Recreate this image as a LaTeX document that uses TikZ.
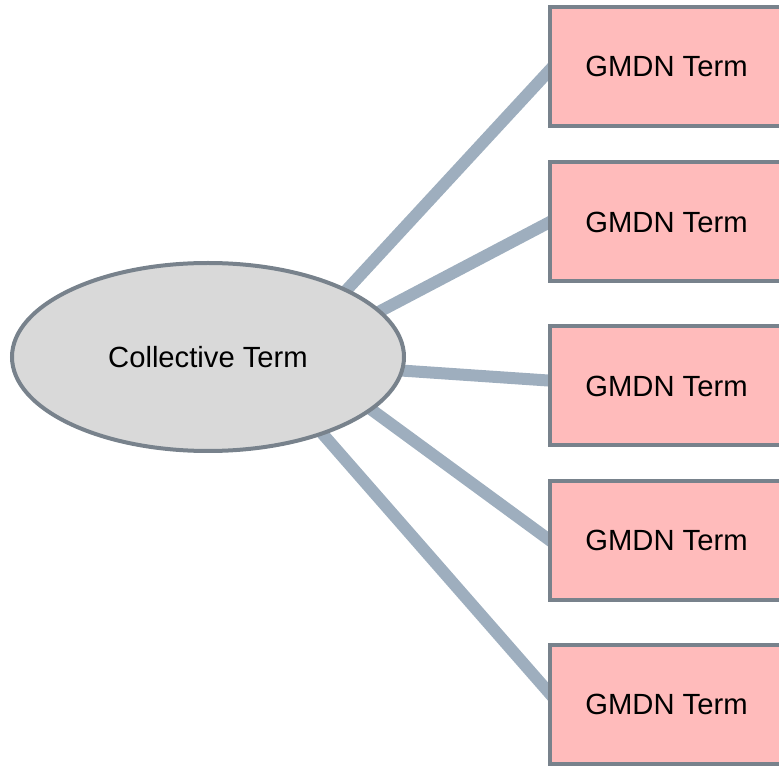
\documentclass[tikz,border=0pt]{standalone}
\usepackage{fontspec}
\setmainfont{Liberation Sans}
\usetikzlibrary{shapes.geometric,backgrounds,calc}
\definecolor{boxfill}{RGB}{255,187,187}
\definecolor{edgegray}{RGB}{120,130,140}
\definecolor{ellfill}{RGB}{217,217,217}
\definecolor{linkcol}{RGB}{158,174,190}
\begin{document}
\begin{tikzpicture}[x=0.75pt,y=-0.75pt,
  term/.style={draw=edgegray,line width=3pt,fill=boxfill,rectangle,
    minimum width=174.75pt,minimum height=89.25pt,inner sep=0pt,
    font=\fontsize{21.9}{26}\selectfont},
  coll/.style={draw=edgegray,line width=3pt,fill=ellfill,ellipse,
    minimum width=294pt,minimum height=141pt,inner sep=0pt,
    font=\fontsize{21.9}{26}\selectfont},
  link/.style={draw=linkcol,line width=9pt,shorten <=-12pt,shorten >=-12pt}]
\useasboundingbox (0,0) rectangle (779,766);
\clip (0,0) rectangle (779,766);
\node[coll] (ell) at (208,357) {Collective Term};
\node[term] (b1) at (666.5,66.5) {GMDN Term};
\node[term] (b2) at (666.5,222) {GMDN Term};
\node[term] (b3) at (666.5,386) {GMDN Term};
\node[term] (b4) at (666.5,540.5) {GMDN Term};
\node[term] (b5) at (666.5,704.5) {GMDN Term};
\begin{scope}[on background layer]
\draw[link] (ell.26) -- ($(b1.west)+(0,5.5)$);
\draw[link] (ell.15) -- ($(b2.west)+(0,1)$);
\draw[link] (ell.-4) -- ($(b3.west)+(0,-5.5)$);
\draw[link] (ell.-18) -- ($(b4.west)+(0,-1.5)$);
\draw[link] (ell.-34) -- ($(b5.west)+(0,-13)$);
\end{scope}
\end{tikzpicture}
\end{document}
